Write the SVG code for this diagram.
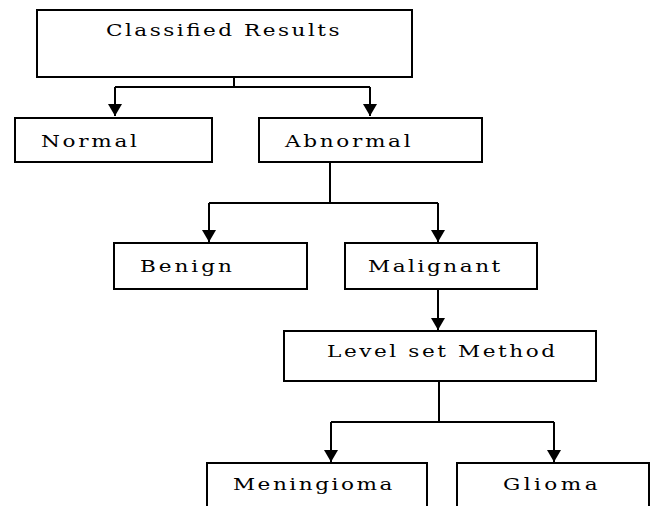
<svg xmlns="http://www.w3.org/2000/svg" width="654" height="506" viewBox="0 0 654 506">
<style>
.box{fill:#fff;stroke:#000;stroke-width:2}
.lbl{font-family:"DejaVu Serif","Liberation Serif",serif;font-size:16px;fill:#000}
.con{fill:none;stroke:#000;stroke-width:2}
</style>
<defs>
<marker id="dn" markerUnits="userSpaceOnUse" markerWidth="16" markerHeight="14" refX="8" refY="13" orient="0" viewBox="0 0 16 14">
<path d="M1,1 L15,1 L8,13 Z" fill="#000"/>
</marker>
</defs>
<rect width="654" height="506" fill="#fff"/>
<g id="connectors">
<path class="con" d="M234,77 V87 M115,87 H370"/>
<path class="con" d="M115,87 V116" marker-end="url(#dn)"/>
<path class="con" d="M370,87 V116" marker-end="url(#dn)"/>
<path class="con" d="M330,162 V203 M209,203 H438"/>
<path class="con" d="M209,203 V242" marker-end="url(#dn)"/>
<path class="con" d="M438,203 V242" marker-end="url(#dn)"/>
<path class="con" d="M438,289 V330" marker-end="url(#dn)"/>
<path class="con" d="M439,381 V422 M331,422 H554"/>
<path class="con" d="M331,422 V462" marker-end="url(#dn)"/>
<path class="con" d="M554,422 V462" marker-end="url(#dn)"/>
</g>
<g id="classified">
<rect class="box" x="37" y="10" width="375" height="67"/>
<text class="lbl" transform="translate(106,36) scale(1.35,1)" textLength="173" lengthAdjust="spacing">Classified Results</text>
</g>
<g id="normal">
<rect class="box" x="15" y="118" width="197" height="44"/>
<text class="lbl" transform="translate(41,147) scale(1.35,1)" textLength="71" lengthAdjust="spacing">Normal</text>
</g>
<g id="abnormal">
<rect class="box" x="259" y="118" width="223" height="44"/>
<text class="lbl" transform="translate(285,147) scale(1.35,1)" textLength="93" lengthAdjust="spacing">Abnormal</text>
</g>
<g id="benign">
<rect class="box" x="114" y="243" width="193" height="46"/>
<text class="lbl" transform="translate(140,272) scale(1.35,1)" textLength="68" lengthAdjust="spacing">Benign</text>
</g>
<g id="malignant">
<rect class="box" x="345" y="243" width="192" height="46"/>
<text class="lbl" transform="translate(368,272) scale(1.35,1)" textLength="98" lengthAdjust="spacing">Malignant</text>
</g>
<g id="levelset">
<rect class="box" x="284" y="331" width="312" height="50"/>
<text class="lbl" transform="translate(327,357) scale(1.35,1)" textLength="169" lengthAdjust="spacing">Level set Method</text>
</g>
<g id="meningioma">
<rect class="box" x="207" y="463" width="220" height="60"/>
<text class="lbl" transform="translate(233,490) scale(1.35,1)" textLength="118" lengthAdjust="spacing">Meningioma</text>
</g>
<g id="glioma">
<rect class="box" x="457" y="463" width="192" height="60"/>
<text class="lbl" transform="translate(503,490) scale(1.35,1)" textLength="70" lengthAdjust="spacing">Glioma</text>
</g>
</svg>
